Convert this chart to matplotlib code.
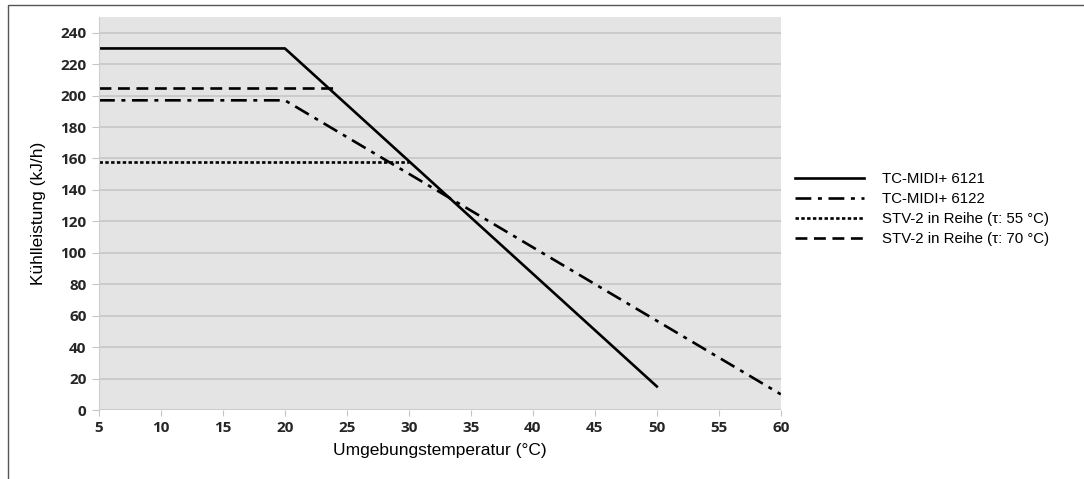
import matplotlib.pyplot as plt
from matplotlib.patches import Rectangle

# series (x = ambient temperature in °C, y = cooling power in kJ/h)
x_6121 = [5, 20, 50]
y_6121 = [230, 230, 15]
x_6122 = [5, 20, 60]
y_6122 = [197, 197, 10]
x_stv55 = [5, 30]
y_stv55 = [158, 158]
x_stv70 = [5, 24]
y_stv70 = [205, 205]

labels = ["TC-MIDI+ 6121", "TC-MIDI+ 6122",
          "STV-2 in Reihe (τ: 55 °C)", "STV-2 in Reihe (τ: 70 °C)"]
xticks = list(range(5, 61, 5))
yticks = list(range(0, 241, 20))

fig = plt.figure(figsize=(10.84, 4.79), dpi=100)
ax = fig.add_axes([0.0913, 0.144, 0.629, 0.8205])
ax.set_facecolor("#e4e4e4")

ax.plot(x_6121, y_6121, color="black", lw=1.9, label=labels[0])
ax.plot(x_6122, y_6122, color="black", lw=1.9, dashes=(6, 2.5, 1.5, 2.5), label=labels[1])
ax.plot(x_stv55, y_stv55, color="black", lw=1.9, dashes=(1.3, 0.9), label=labels[2])
ax.plot(x_stv70, y_stv70, color="black", lw=1.9, dashes=(4.5, 2.5), label=labels[3])

ax.set_xlim(5, 60)
ax.set_ylim(0, 250)
ax.set_xticks(xticks)
ax.set_yticks(yticks)
ax.grid(True, axis="y", color="#c6c6c6", lw=1.2)
ax.set_axisbelow(True)
for s in ["top", "right", "bottom"]:
    ax.spines[s].set_visible(False)
ax.spines["left"].set_color("#cfcfcf")
ax.tick_params(axis="both", length=4, color="#c6c6c6", labelsize=11, pad=4)
ax.tick_params(axis="y", length=5)
for lab in ax.get_xticklabels() + ax.get_yticklabels():
    lab.set_fontfamily("Open Sans")
    lab.set_fontweight("bold")
    lab.set_color("#262626")

ax.set_xlabel("Umgebungstemperatur (°C)", family="Liberation Sans", fontsize=12.5, labelpad=6)
ax.set_ylabel("Kühlleistung (kJ/h)", family="Liberation Sans", fontsize=12.5, labelpad=10)

ax.legend(loc="upper left", bbox_to_anchor=(1.012, 0.62), frameon=False,
          prop={"family": "Liberation Sans", "size": 10.8}, handlelength=4.6,
          handletextpad=1.2, labelspacing=0.4, borderaxespad=0)

# outer frame (left and top edge visible)
fig.add_artist(Rectangle((0.0075, -0.1), 1.2, 1.09, transform=fig.transFigure,
                         fill=False, edgecolor="#555555", lw=1))

fig.savefig("out.png", dpi=100)
